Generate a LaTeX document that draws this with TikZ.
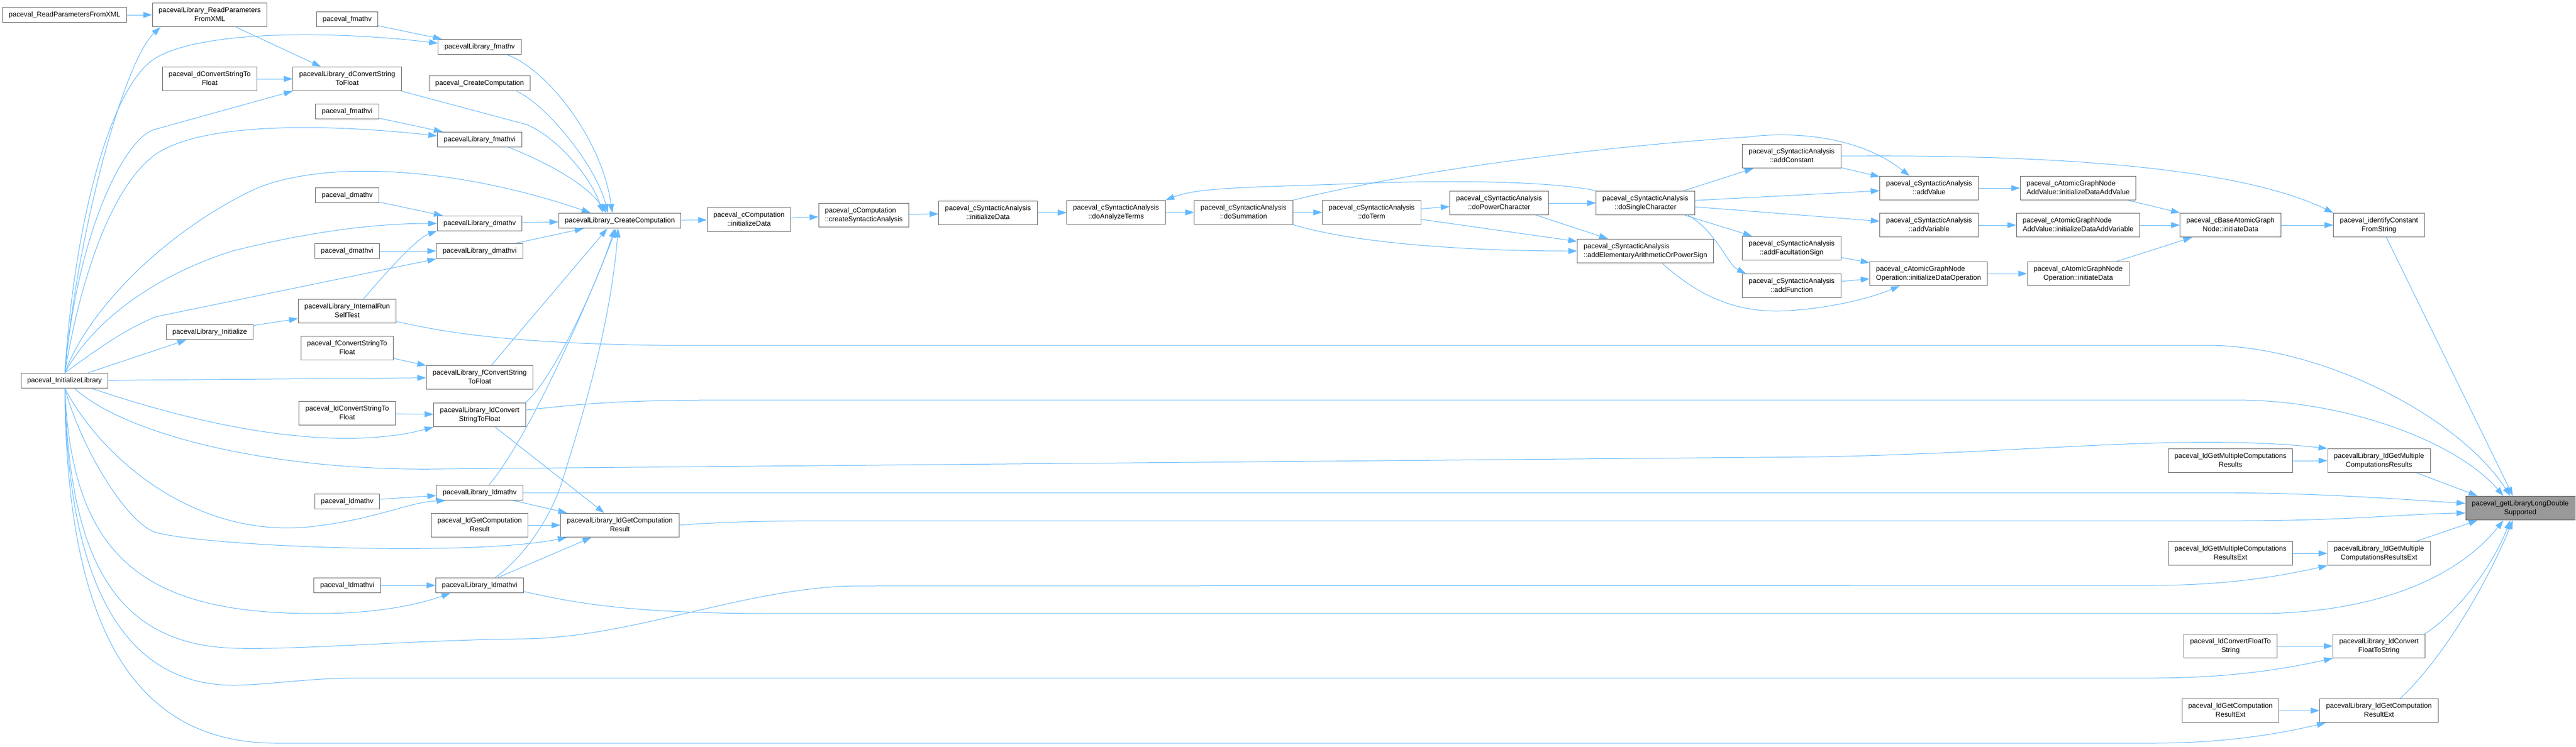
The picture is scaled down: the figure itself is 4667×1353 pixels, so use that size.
\documentclass[tikz,border=0pt]{standalone}
\usepackage{fontspec}
\setmainfont{Liberation Sans}
\usetikzlibrary{arrows.meta}

\definecolor{pfeilblau}{HTML}{63B8FF}
\definecolor{rahmengrau}{HTML}{666666}
\definecolor{zielgrau}{HTML}{999999}

\newcommand{\zweizeilen}[2]{\begin{tabular}{@{}l@{}}#1\\\multicolumn{1}{@{}c@{}}{#2}\end{tabular}}

\tikzstyle{block} = [rectangle, draw=rahmengrau, fill=white, line width=0.75pt, inner xsep=8.5pt, inner ysep=4.3pt, font=\fontsize{9.5}{12}\selectfont, execute at begin node=\strut]
\tikzstyle{ziel} = [block, fill=zielgrau]
\tikzstyle{kante} = [->, >={Triangle[length=12pt,width=8pt]}, draw=pfeilblau, line width=0.75pt]

\begin{document}
\begin{tikzpicture}[x=0.75pt, y=-0.75pt]
	\useasboundingbox (0,0) rectangle (4667,1353);

	\node (rpx)         [block] at (117,27)   {paceval\_ReadParametersFromXML};
	\node (librpx)      [block] at (380,27)   {\zweizeilen{pacevalLibrary\_ReadParameters}{FromXML}};
	\node (pfmathv)     [block] at (629,35)   {paceval\_fmathv};
	\node (libfmathv)   [block] at (869,85)   {pacevalLibrary\_fmathv};
	\node (pdconv)      [block] at (380,143)  {\zweizeilen{paceval\_dConvertStringTo}{Float}};
	\node (libdconv)    [block] at (629,143)  {\zweizeilen{pacevalLibrary\_dConvertString}{ToFloat}};
	\node (pcreate)     [block] at (869,151)  {paceval\_CreateComputation};
	\node (pfmathvi)    [block] at (629,202)  {paceval\_fmathvi};
	\node (libfmathvi)  [block] at (869,253)  {pacevalLibrary\_fmathvi};
	\node (pdmathv)     [block] at (629,354)  {paceval\_dmathv};
	\node (libdmathv)   [block] at (869,405)  {pacevalLibrary\_dmathv};
	\node (libcreate)   [block] at (1123,400) {pacevalLibrary\_CreateComputation};
	\node (pdmathvi)    [block] at (629,455)  {paceval\_dmathvi};
	\node (libdmathvi)  [block] at (869,455)  {pacevalLibrary\_dmathvi};
	\node (selftest)    [block] at (629,564)  {\zweizeilen{pacevalLibrary\_InternalRun}{SelfTest}};
	\node (libinit)     [block] at (380,602)  {pacevalLibrary\_Initialize};
	\node (pfconv)      [block] at (629,631)  {\zweizeilen{paceval\_fConvertStringTo}{Float}};
	\node (libfconv)    [block] at (869,684)  {\zweizeilen{pacevalLibrary\_fConvertString}{ToFloat}};
	\node (initlib)     [block] at (117,690)  {paceval\_InitializeLibrary};
	\node (pldconv)     [block] at (629,749)  {\zweizeilen{paceval\_ldConvertStringTo}{Float}};
	\node (libldconv)   [block] at (869,752)  {\zweizeilen{pacevalLibrary\_ldConvert}{StringToFloat}};
	\node (libldmathv)  [block] at (869,893)  {pacevalLibrary\_ldmathv};
	\node (pldmathv)    [block] at (629,909)  {paceval\_ldmathv};
	\node (pldgetres)   [block] at (869,952)  {\zweizeilen{paceval\_ldGetComputation}{Result}};
	\node (libldgetres) [block] at (1123,952) {\zweizeilen{pacevalLibrary\_ldGetComputation}{Result}};
	\node (pldmathvi)   [block] at (629,1061) {paceval\_ldmathvi};
	\node (libldmathvi) [block] at (869,1061) {pacevalLibrary\_ldmathvi};

	\node (ccompinit)   [block] at (1357,398) {\zweizeilen{paceval\_cComputation}{::initializeData}};
	\node (ccompcsa)    [block] at (1565,390) {\zweizeilen{paceval\_cComputation}{::createSyntacticAnalysis}};
	\node (csainit)     [block] at (1790,386) {\zweizeilen{paceval\_cSyntacticAnalysis}{::initializeData}};
	\node (doanalyze)   [block] at (2022,385) {\zweizeilen{paceval\_cSyntacticAnalysis}{::doAnalyzeTerms}};
	\node (dosum)       [block] at (2253,385) {\zweizeilen{paceval\_cSyntacticAnalysis}{::doSummation}};
	\node (doterm)      [block] at (2485,385) {\zweizeilen{paceval\_cSyntacticAnalysis}{::doTerm}};
	\node (dopower)     [block] at (2716,368) {\zweizeilen{paceval\_cSyntacticAnalysis}{::doPowerCharacter}};
	\node (dosingle)    [block] at (2981,368) {\zweizeilen{paceval\_cSyntacticAnalysis}{::doSingleCharacter}};
	\node (addelem)     [block] at (2981,455) {\zweizeilen{paceval\_cSyntacticAnalysis}{::addElementaryArithmeticOrPowerSign}};
	\node (addconst)    [block] at (3246,283) {\zweizeilen{paceval\_cSyntacticAnalysis}{::addConstant}};
	\node (addfac)      [block] at (3246,450) {\zweizeilen{paceval\_cSyntacticAnalysis}{::addFacultationSign}};
	\node (addfunc)     [block] at (3246,518) {\zweizeilen{paceval\_cSyntacticAnalysis}{::addFunction}};
	\node (addvalue)    [block] at (3495,341) {\zweizeilen{paceval\_cSyntacticAnalysis}{::addValue}};
	\node (addvar)      [block] at (3495,408) {\zweizeilen{paceval\_cSyntacticAnalysis}{::addVariable}};
	\node (initop)      [block] at (3494,496) {\zweizeilen{paceval\_cAtomicGraphNode}{Operation::initializeDataOperation}};
	\node (initaddval)  [block] at (3765,341) {\zweizeilen{paceval\_cAtomicGraphNode}{AddValue::initializeDataAddValue}};
	\node (initaddvar)  [block] at (3765,408) {\zweizeilen{paceval\_cAtomicGraphNode}{AddValue::initializeDataAddVariable}};
	\node (opinit)      [block] at (3765,496) {\zweizeilen{paceval\_cAtomicGraphNode}{Operation::initiateData}};
	\node (baseinit)    [block] at (4041,408) {\zweizeilen{paceval\_cBaseAtomicGraph}{Node::initiateData}};
	\node (identify)    [block] at (4310,408) {\zweizeilen{paceval\_identifyConstant}{FromString}};

	\node (pldmulti)       [block] at (4041,835)  {\zweizeilen{paceval\_ldGetMultipleComputations}{Results}};
	\node (libldmulti)     [block] at (4310,835)  {\zweizeilen{pacevalLibrary\_ldGetMultiple}{ComputationsResults}};
	\node (pldmultiext)    [block] at (4041,1003) {\zweizeilen{paceval\_ldGetMultipleComputations}{ResultsExt}};
	\node (libldmultiext)  [block] at (4310,1003) {\zweizeilen{pacevalLibrary\_ldGetMultiple}{ComputationsResultsExt}};
	\node (pldf2s)         [block] at (4041,1171) {\zweizeilen{paceval\_ldConvertFloatTo}{String}};
	\node (libldf2s)       [block] at (4310,1171) {\zweizeilen{pacevalLibrary\_ldConvert}{FloatToString}};
	\node (pldgetresext)   [block] at (4041,1288) {\zweizeilen{paceval\_ldGetComputation}{ResultExt}};
	\node (libldgetresext) [block] at (4310,1288) {\zweizeilen{pacevalLibrary\_ldGetComputation}{ResultExt}};
	\node (target)         [ziel]  at (4566,921)  {\zweizeilen{paceval\_getLibraryLongDouble}{Supported}};

	\draw[kante] (rpx) -- (librpx);
	\draw[kante] (librpx) -- (libdconv);
	\draw[kante] (pfmathv) -- (libfmathv);
	\draw[kante] (pdconv) -- (libdconv);
	\draw[kante] (pfmathvi) -- (libfmathvi);
	\draw[kante] (pdmathv) -- (libdmathv);
	\draw[kante] (pdmathvi) -- (libdmathvi);
	\draw[kante] (libdmathv) -- (libcreate);
	\draw[kante] (libdmathvi) -- (libcreate);
	\draw[kante] (initlib) -- (libinit);
	\draw[kante] (libinit) -- (selftest);
	\draw[kante] (initlib) -- (libfconv);
	\draw[kante] (pfconv) -- (libfconv);
	\draw[kante] (libfconv.46) -- (libcreate.-148);
	\draw[kante] (pldconv) -- (libldconv);
	\draw[kante] (pldmathv) -- (libldmathv);
	\draw[kante] (pldmathvi) -- (libldmathvi);
	\draw[kante] (pldgetres) -- (libldgetres);
	\draw[kante] (libldconv) -- (libldgetres);
	\draw[kante] (libldmathv) -- (libldgetres);
	\draw[kante] (libldmathvi) -- (libldgetres);

	\draw[kante] (initlib.88) .. controls (140,420) and (225,110) .. (librpx.-166);
	\draw[kante] (initlib.88) .. controls (135,400) and (200,160) .. (279,107) .. controls (360,55) and (600,55) .. (libfmathv.175);
	\draw[kante] (initlib.88) .. controls (140,420) and (225,252) .. (279,235) -- (libdconv.south west);
	\draw[kante] (initlib.88) .. controls (150,480) and (210,330) .. (283,279) .. controls (370,220) and (600,225) .. (libfmathvi.175);
	\draw[kante] (initlib.88) .. controls (160,560) and (300,420) .. (459,344) .. controls (580,290) and (820,300) .. (libcreate.165);
	\draw[kante] (initlib.88) .. controls (170,580) and (280,500) .. (421,455) .. controls (520,430) and (650,405) .. (libdmathv.west);
	\draw[kante] (initlib.88) .. controls (180,630) and (230,595) .. (283,574) -- (libdmathvi.south west);

	\draw[kante] (initlib.-16) .. controls (450,800) and (650,810) .. (libldconv.south west);
	\draw[kante] (initlib.-38) .. controls (230,790) and (500,855) .. (800,850) -- (3300,828) .. controls (3700,820) and (3950,785) .. (libldmulti.north west);
	\draw[kante] (initlib.-88) .. controls (190,840) and (360,975) .. (560,955) .. controls (680,942) and (740,910) .. (libldmathv.-167);
	\draw[kante] (initlib.-88) .. controls (150,820) and (230,945) .. (279,964) .. controls (360,990) and (850,1010) .. (libldgetres.-167);
	\draw[kante] (initlib.-88) .. controls (130,1000) and (250,1110) .. (559,1112) .. controls (680,1114) and (760,1095) .. (libldmathvi.-165);
	\draw[kante] (initlib.-88) .. controls (125,1000) and (200,1170) .. (428,1175) .. controls (550,1178) and (750,1160) .. (950,1158) .. controls (1150,1155) and (1350,1065) .. (1550,1062) -- (3900,1061) .. controls (4050,1061) and (4150,1040) .. (libldmultiext.south west);
	\draw[kante] (initlib.-88) .. controls (122,1050) and (220,1245) .. (428,1242) .. controls (500,1240) and (560,1229) .. (650,1229) -- (3900,1229) .. controls (4050,1229) and (4150,1210) .. (libldf2s.south west);
	\draw[kante] (initlib.-88) .. controls (120,1150) and (250,1347) .. (500,1347) -- (3900,1347) .. controls (4050,1347) and (4150,1325) .. (libldgetresext.-167);

	\draw[kante] (libfmathv.-16) .. controls (990,125) and (1090,250) .. (libcreate.134);
	\draw[kante] (pcreate.-12) .. controls (990,190) and (1080,300) .. (libcreate.147);
	\draw[kante] (libdconv.south east) -- (955,226) .. controls (1010,250) and (1070,320) .. (libcreate.155);
	\draw[kante] (libfmathvi.-15) .. controls (980,290) and (1060,330) .. (libcreate.150);
	\draw[kante] (libldconv.15) .. controls (1000,690) and (1080,520) .. (libcreate.-124);
	\draw[kante] (libldmathv.40) .. controls (960,790) and (1060,560) .. (libcreate.-114);
	\draw[kante] (libldmathvi.27) .. controls (930,1025) and (990,960) .. (1018,874) .. controls (1050,770) and (1105,600) .. (libcreate.-102);

	\draw[kante] (selftest.37) .. controls (720,470) and (760,430) .. (libdmathv.-170);
	\draw[kante] (selftest.-12) .. controls (800,600) and (900,622) .. (1200,626) -- (4000,626) .. controls (4200,626) and (4450,750) .. (target.129);
	\draw[kante] (libldconv.6) .. controls (1050,733) and (1100,726) .. (1300,725) -- (4050,725) .. controls (4250,725) and (4450,800) .. (target.144);
	\draw[kante] (libldmathv.east) -- (4000,893) .. controls (4200,893) and (4350,905) .. (target.175);
	\draw[kante] (libldgetres.east) .. controls (1300,946) and (1400,944) .. (1500,944) -- (4050,944) .. controls (4250,944) and (4350,932) .. (target.-175);
	\draw[kante] (libldmathvi.-8) .. controls (1050,1095) and (1150,1112) .. (1400,1112) -- (4100,1112) .. controls (4300,1110) and (4450,1050) .. (target.-144);

	\draw[kante] (libcreate) -- (ccompinit);
	\draw[kante] (ccompinit) -- (ccompcsa);
	\draw[kante] (ccompcsa) -- (csainit);
	\draw[kante] (csainit) -- (doanalyze);
	\draw[kante] (doanalyze) -- (dosum);
	\draw[kante] (dosum) -- (doterm);
	\draw[kante] (doterm) -- (dopower);
	\draw[kante] (dopower) -- (dosingle);
	\draw[kante] (doterm) -- (addelem);
	\draw[kante] (dopower) -- (addelem);
	\draw[kante] (dosum.south east) .. controls (2450,440) and (2650,455) .. (addelem.west);
	\draw[kante] (dosum.north east) .. controls (2600,300) and (2950,262) .. (3170,248) .. controls (3230,240) and (3360,240) .. (addvalue.148);
	\draw[kante] (dosingle.north west) .. controls (2820,330) and (2650,325) .. (2450,333) .. controls (2250,340) and (2170,340) .. (doanalyze.north east);
	\draw[kante] (dosingle) -- (addconst);
	\draw[kante] (dosingle) -- (addvalue);
	\draw[kante] (dosingle) -- (addvar);
	\draw[kante] (dosingle) -- (addfac);
	\draw[kante] (dosingle.-16) .. controls (3110,420) and (3130,480) .. (addfunc.165);
	\draw[kante] (addelem.-36) .. controls (3070,530) and (3140,570) .. (3241,563) .. controls (3320,558) and (3390,540) .. (initop.-157);
	\draw[kante] (addconst) -- (addvalue);
	\draw[kante] (addconst.east) .. controls (3700,280) and (4050,300) .. (identify.north west);
	\draw[kante] (addfac) -- (initop);
	\draw[kante] (addfunc) -- (initop);
	\draw[kante] (addvalue) -- (initaddval);
	\draw[kante] (addvar) -- (initaddvar);
	\draw[kante] (initop) -- (opinit);
	\draw[kante] (initaddval) -- (baseinit);
	\draw[kante] (initaddvar) -- (baseinit);
	\draw[kante] (opinit) -- (baseinit);
	\draw[kante] (baseinit) -- (identify);
	\draw[kante] (identify.-59) -- (target.121);

	\draw[kante] (pldmulti) -- (libldmulti);
	\draw[kante] (pldmultiext) -- (libldmultiext);
	\draw[kante] (pldf2s) -- (libldf2s);
	\draw[kante] (pldgetresext) -- (libldgetresext);
	\draw[kante] (libldmulti.-18) -- (target.164);
	\draw[kante] (libldmultiext.18) -- (target.-164);
	\draw[kante] (libldf2s.15) .. controls (4440,1120) and (4510,1040) .. (target.-129);
	\draw[kante] (libldgetresext.30) .. controls (4420,1200) and (4500,1070) .. (target.-121);
\end{tikzpicture}
\end{document}
